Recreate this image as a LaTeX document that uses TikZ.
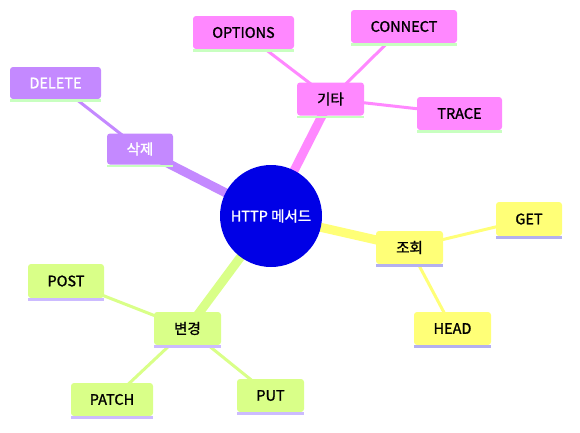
\documentclass[tikz,border=0pt]{standalone}
\usepackage{fontspec}
\setmainfont{Noto Sans CJK KR}[FakeBold=1.3]
\usetikzlibrary{backgrounds}
\definecolor{purp}{HTML}{C489FF}
\definecolor{pink}{HTML}{FF88FF}
\definecolor{yel}{HTML}{FFFF77}
\definecolor{grn}{HTML}{D9FF88}
\definecolor{palegrn}{HTML}{C8FFC0}
\definecolor{lav}{HTML}{B4B0F0}
\definecolor{lav2}{HTML}{CCBBFF}
\definecolor{hub}{HTML}{0000E6}
\begin{document}
\begin{tikzpicture}[x=1pt,y=-1pt,
  box/.style={rectangle, rounded corners=3pt, minimum height=33pt, inner sep=0pt,
    font=\fontsize{14.5}{16}\selectfont},
  pbox/.style={box, fill=purp, text=white},
  kbox/.style={box, fill=pink},
  ybox/.style={box, fill=yel},
  gbox/.style={box, fill=grn},
  mainline/.style={line width=9pt},
  subline/.style={line width=3pt}]
\useasboundingbox (0,0) rectangle (580,432);
\node[circle, fill=hub, minimum size=102pt, inner sep=0pt, text=white,
  font=\fontsize{14.5}{16}\selectfont] (hub) at (271,216) {HTTP 메서드};
% purple
\node[pbox, minimum width=66pt, minimum height=31pt] (sak) at (140,149) {삭제};
\node[pbox, minimum width=91pt, minimum height=32pt] (del) at (55.5,83) {DELETE};
% pink
\node[kbox, minimum width=67pt] (gita) at (330.5,99) {기타};
\node[kbox, minimum width=101pt] (opt) at (243.5,32.5) {OPTIONS};
\node[kbox, minimum width=106pt] (con) at (404,26.5) {CONNECT};
\node[kbox, minimum width=85pt] (tra) at (459.5,113.5) {TRACE};
% yellow
\node[ybox, minimum width=67pt] (jo) at (409.5,247.5) {조회};
\node[ybox, minimum width=66pt, minimum height=34pt] (get) at (529,219) {GET};
\node[ybox, minimum width=77pt] (head) at (452.5,328.5) {HEAD};
% green
\node[gbox, minimum width=67pt] (byun) at (187.5,328.5) {변경};
\node[gbox, minimum width=76pt, minimum height=34pt] (post) at (66,281) {POST};
\node[gbox, minimum width=82pt] (patch) at (112,399.5) {PATCH};
\node[gbox, minimum width=67pt] (put) at (270.5,395.5) {PUT};
% connectors
\begin{scope}[on background layer]
\draw[mainline, purp] (hub.center) -- (sak.center);
\draw[subline, purp] (sak.center) -- (del.center);
\draw[mainline, pink] (hub.center) -- (gita.center);
\draw[subline, pink] (gita.center) -- (opt.center);
\draw[subline, pink] (gita.center) -- (con.center);
\draw[subline, pink] (gita.center) -- (tra.center);
\draw[mainline, yel] (hub.center) -- (jo.center);
\draw[subline, yel] (jo.center) -- (get.center);
\draw[subline, yel] (jo.center) -- (head.center);
\draw[mainline, grn] (hub.center) -- (byun.center);
\draw[subline, grn] (byun.center) -- (post.center);
\draw[subline, grn] (byun.center) -- (patch.center);
\draw[subline, grn] (byun.center) -- (put.center);
\end{scope}
% underlines
\foreach \n in {sak,del,gita,opt,con,tra}
  \fill[palegrn] (\n.south west) rectangle ([yshift=-2.5pt]\n.south east);
\foreach \n in {jo,get,head}
  \fill[lav] (\n.south west) rectangle ([yshift=-2.5pt]\n.south east);
\foreach \n in {byun,post,patch,put}
  \fill[lav2] (\n.south west) rectangle ([yshift=-2.5pt]\n.south east);
\end{tikzpicture}
\end{document}
